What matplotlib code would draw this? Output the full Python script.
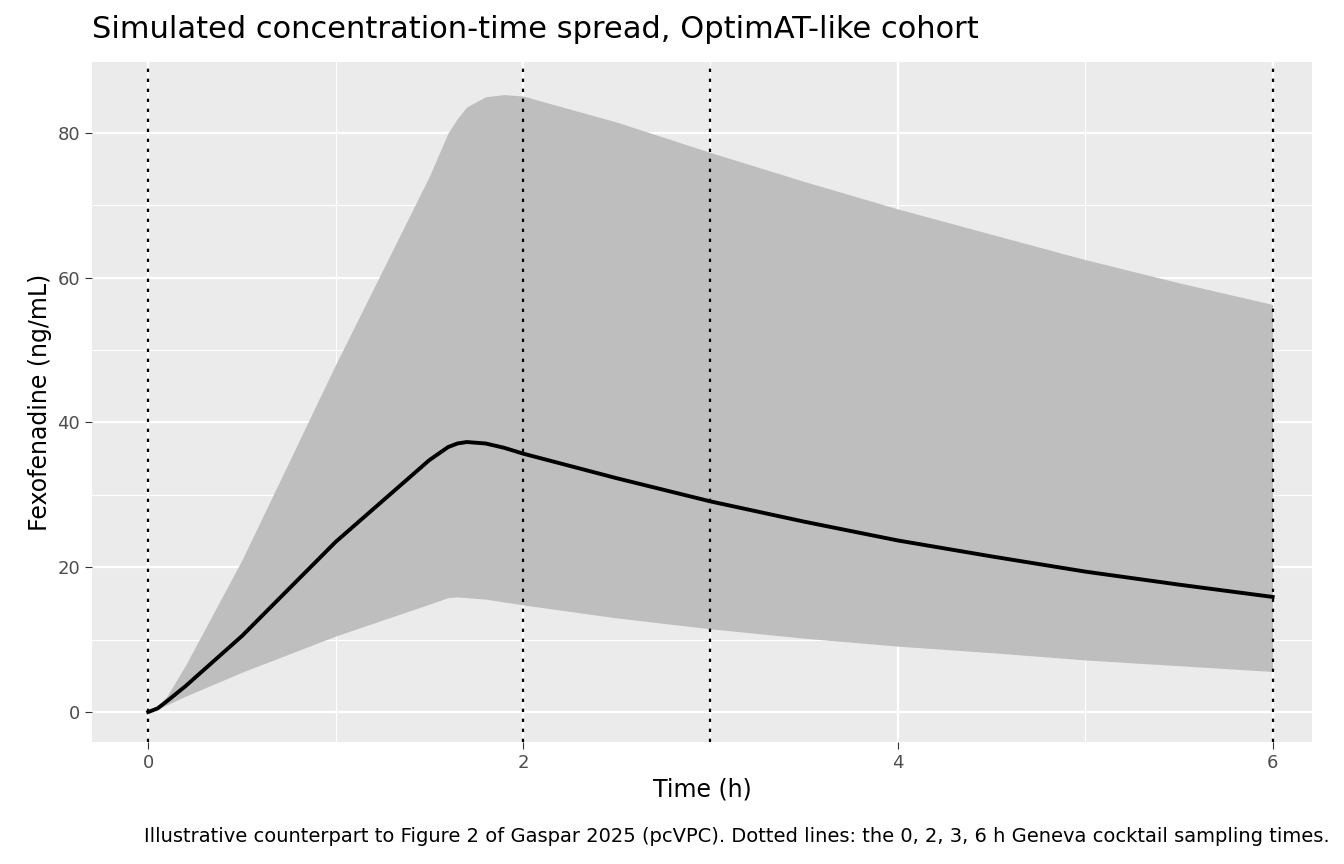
import matplotlib
matplotlib.use("Agg")
import matplotlib.pyplot as plt

time = [0, 0.05, 0.1, 0.2, 0.5, 1.0, 1.5, 1.6, 1.65, 1.7, 1.8, 1.9, 2.0, 2.5, 3.0, 3.5, 4.0, 4.5, 5.0, 5.5, 6.0]
median = [0, 0.5, 1.5, 3.6, 10.5, 23.5, 34.8, 36.6, 37.1, 37.3, 37.1, 36.5, 35.7, 32.3, 29.1, 26.3, 23.7, 21.5, 19.4, 17.6, 15.9]
upper = [0, 0.8, 2.2, 6.5, 21, 48, 74, 80, 82, 83.6, 85, 85.3, 85.1, 81.5, 77.3, 73.3, 69.5, 66, 62.5, 59.3, 56.3]
lower = [0, 0.4, 1.0, 2.2, 5.5, 10.5, 14.9, 15.8, 15.9, 15.8, 15.6, 15.2, 14.8, 13.0, 11.5, 10.2, 9.1, 8.2, 7.2, 6.4, 5.6]
sampling = [0, 2, 3, 6]

fig = plt.figure(figsize=(13.44, 8.64), dpi=100)
ax = fig.add_axes([92/1344, 1-742/864, (1312-92)/1344, (742-62)/864])
ax.set_facecolor("#EBEBEB")
for s in ax.spines.values():
    s.set_visible(False)
for v in [1, 3, 5]:
    ax.axvline(v, color="white", lw=0.8, zorder=0)
for v in [10, 30, 50, 70]:
    ax.axhline(v, color="white", lw=0.8, zorder=0)
for v in [0, 2, 4, 6]:
    ax.axvline(v, color="white", lw=1.6, zorder=0)
for v in [0, 20, 40, 60, 80]:
    ax.axhline(v, color="white", lw=1.6, zorder=0)
ax.fill_between(time, lower, upper, color="#BEBEBE", lw=0, zorder=1)
for s in sampling:
    ax.axvline(s, color="black", ls=(0, (1.5, 3)), lw=1.6, zorder=2)
ax.plot(time, median, color="black", lw=2.8, zorder=3)
ax.set_xlim(-0.3, 6.21)
ax.set_ylim(-4.14, 89.8)
ax.set_xticks([0, 2, 4, 6])
ax.set_yticks([0, 20, 40, 60, 80])
ax.tick_params(colors="#333333", labelsize=13, length=5, color="#333333")
for t in ax.get_xticklabels() + ax.get_yticklabels():
    t.set_color("#4D4D4D")
ax.set_xlabel("Time (h)", fontsize=17)
ax.set_ylabel("Fexofenadine (ng/mL)", fontsize=17)
fig.text(92/1344, 1-30/864, "Simulated concentration-time spread, OptimAT-like cohort",
         fontsize=22, va="center", ha="left")
fig.text(1330/1344, 1-836/864,
         "Illustrative counterpart to Figure 2 of Gaspar 2025 (pcVPC). Dotted lines: the 0, 2, 3, 6 h Geneva cocktail sampling times.",
         fontsize=14, va="center", ha="right")
fig.savefig("out.png", dpi=100)
